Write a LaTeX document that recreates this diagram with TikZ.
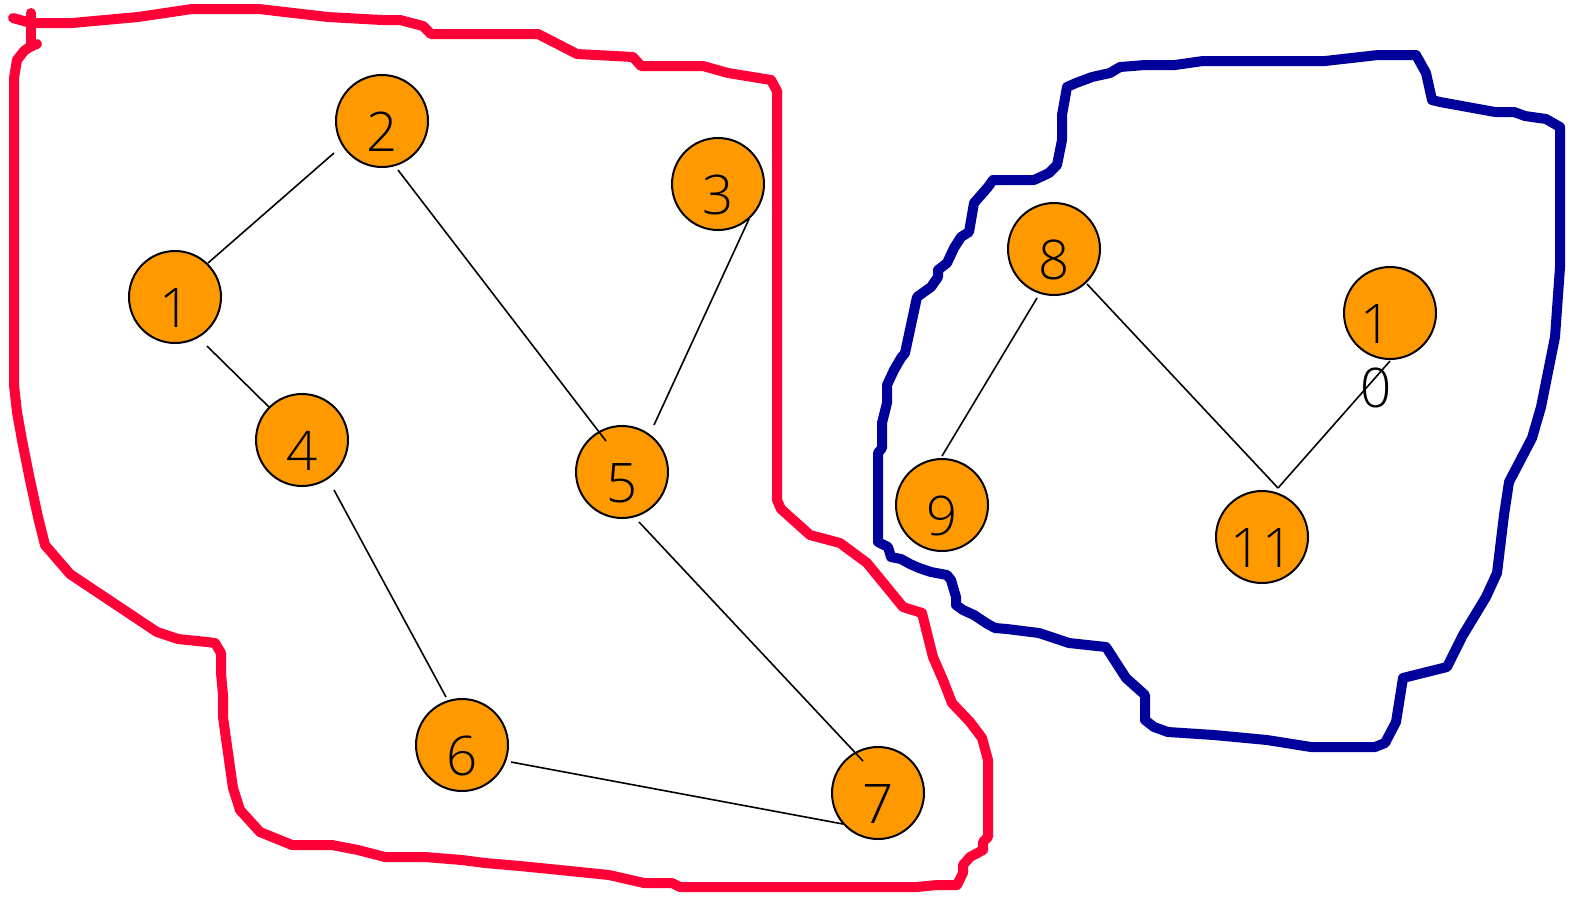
\documentclass[tikz,border=0pt]{standalone}
\usepackage{fontspec}
\setmainfont{Open Sans}[UprightFont=* Light]
\usetikzlibrary{calc}
\definecolor{rimred}{RGB}{255,0,55}
\definecolor{rimblue}{RGB}{0,0,155}
\definecolor{vfill}{RGB}{255,153,0}
\begin{document}
\begin{tikzpicture}[x=0.5pt,y=-0.5pt,
  vertex/.style={circle,draw=black,line width=1pt,fill=vfill,minimum size=46pt,inner sep=0pt,
    text height=30pt,text depth=0pt,font=\fontsize{27.3pt}{32pt}\selectfont},
  link/.style={draw=black,line width=0.8pt},
  redrim/.style={draw=rimred,line width=5pt,line cap=round,line join=round},
  bluerim/.style={draw=rimblue,line width=5pt,line cap=round,line join=round}]
\useasboundingbox (0,0) rectangle (1573,896);

% outlines
\draw[redrim] (13,18) -- (31,23) -- (72,23) -- (138,17) -- (192,9) -- (259,9) -- (328,17) -- (382,20) -- (400,20)
  -- (423,26) -- (431,34) -- (538,34) -- (577,54) -- (633,57) -- (641,66) -- (703,66) -- (728,73) -- (771,80)
  -- (777,91) -- (777,500) -- (781,509) -- (810,535) -- (840,543) -- (867,563) -- (903,607) -- (922,613)
  -- (933,657) -- (943,680) -- (952,703) -- (970,722) -- (982,738) -- (988,760) -- (988,837) -- (983,842)
  -- (983,850) -- (970,857) -- (963,865) -- (963,873) -- (957,885) -- (937,885) -- (917,887) -- (680,887)
  -- (672,883) -- (644,883) -- (609,875) -- (570,871) -- (520,866) -- (485,863) -- (462,860) -- (425,857)
  -- (385,857) -- (358,850) -- (332,845) -- (292,845) -- (260,832) -- (240,810) -- (233,788) -- (230,767)
  -- (223,717) -- (223,695) -- (221,673) -- (221,653) -- (215,643) -- (207,642) -- (178,639) -- (157,632)
  -- (112,602) -- (70,574) -- (45,545) -- (38,517) -- (30,480) -- (22,440) -- (17,412) -- (14,385)
  -- (14,78) -- (17,60) -- (24,51) -- (31,46) -- (37,44);
\draw[redrim] (31,13) -- (31,47);

\draw[bluerim] (1416,55) -- (1426,73) -- (1432,100) -- (1440,102) -- (1495,112) -- (1514,112) -- (1525,116)
  -- (1546,119) -- (1560,127) -- (1560,267) -- (1555,337) -- (1541,407) -- (1532,438) -- (1509,482)
  -- (1504,515) -- (1497,573) -- (1486,597) -- (1463,635) -- (1447,667) -- (1403,678) -- (1396,722)
  -- (1385,743) -- (1375,747) -- (1311,747) -- (1267,740) -- (1214,735) -- (1168,732) -- (1154,727)
  -- (1145,720) -- (1145,695) -- (1126,678) -- (1106,647) -- (1069,643) -- (1039,633) -- (1007,629)
  -- (995,628) -- (986,623) -- (974,615) -- (963,610) -- (956,605) -- (956,597) -- (951,580) -- (947,575)
  -- (931,572) -- (919,568) -- (910,564) -- (901,559) -- (891,557) -- (888,547) -- (878,542) -- (878,453)
  -- (882,448) -- (882,423) -- (887,403) -- (887,385) -- (894,370) -- (901,358) -- (905,353) -- (917,297)
  -- (931,287) -- (938,277) -- (938,270) -- (947,263) -- (954,248) -- (961,237) -- (969,232) -- (974,203)
  -- (988,187) -- (993,180) -- (1034,180) -- (1049,173) -- (1057,165) -- (1062,140) -- (1062,115)
  -- (1067,87) -- (1076,83) -- (1092,77) -- (1110,73) -- (1120,67) -- (1145,65) -- (1175,65) -- (1203,61)
  -- (1325,61) -- (1378,55) -- cycle;

% vertices
\node[vertex] (n1) at (175,297) {1};
\node[vertex] (n2) at (382,121) {2};
\node[vertex] (n3) at (718,184) {3};
\node[vertex] (n4) at (302,440) {4};
\node[vertex] (n5) at (622,472) {5};
\node[vertex] (n6) at (462,745) {6};
\node[vertex] (n7) at (878,793) {7};
\node[vertex] (n8) at (1054,249) {8};
\node[vertex] (n9) at (942,505) {9};
\node[vertex] (n10) at (1390,313) {\vtop{\hbox{1}\hbox{0}}\kern14pt};
\node[vertex] (n11) at (1262,537) {11};

% edges
\draw[link] ($(n1)+(33,-34)$) -- ($(n2)+(-48,32)$);
\draw[link] ($(n2)+(16,49)$) -- ($(n5)+(-16,-31)$);
\draw[link] ($(n3)+(31,35)$) -- ($(n5)+(32,-47)$);
\draw[link] ($(n1)+(32,49)$) -- ($(n4)+(-33,-33)$);
\draw[link] ($(n4)+(32,50)$) -- ($(n6)+(-16,-48)$);
\draw[link] ($(n5)+(17,50)$) -- ($(n7)+(-15,-32)$);
\draw[link] ($(n6)+(49,17)$) -- ($(n7)+(-35,31)$);
\draw[link] ($(n8)+(-17,49)$) -- ($(n9)+(0,-49)$);
\draw[link] ($(n8)+(33,35)$) -- ($(n11)+(16,-49)$);
\draw[link] ($(n11)+(16,-49)$) -- ($(n10)+(0,48)$);
\end{tikzpicture}
\end{document}
